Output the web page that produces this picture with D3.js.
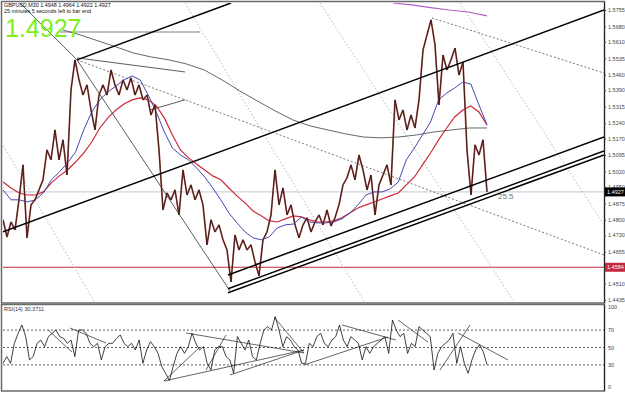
<!DOCTYPE html>
<html>
<head>
<meta charset="utf-8">
<script src="https://cdn.jsdelivr.net/npm/d3@7/dist/d3.min.js"></script>
<style>
  body { margin: 0; background: #fff; }
  text { font-family: "Liberation Sans", Arial, sans-serif; }
</style>
</head>
<body>
<div id="chart"></div>
<script>
// GBPUSD M30 closes, one value every 2 bars (bar 0 .. 242)
const closes = [
  1.4800,1.4722,1.4790,1.4754,1.4891,1.5050,1.4718,1.4868,1.4891,1.4936,
  1.4982,1.5118,1.5073,1.5209,1.5073,1.5164,1.5004,1.5391,1.5528,1.5437,
  1.5368,1.5414,1.5300,1.5209,1.5368,1.5414,1.5368,1.5482,1.5414,1.5368,
  1.5437,1.5391,1.5446,1.5368,1.5414,1.5346,1.5368,1.5277,1.5323,1.5118,
  1.4845,1.4922,1.4891,1.4936,1.4822,1.5027,1.4913,1.4959,1.4891,1.4936,
  1.4868,1.4686,1.4800,1.4745,1.4777,1.4709,1.4663,1.4517,1.4731,1.4663,
  1.4709,1.4663,1.4686,1.4608,1.4545,1.4709,1.4745,1.4822,1.5027,1.4868,
  1.4945,1.4822,1.4868,1.4777,1.4718,1.4777,1.4809,1.4745,1.4790,1.4822,
  1.4777,1.4845,1.4772,1.4809,1.4868,1.4959,1.4991,1.5050,1.4982,1.5095,
  1.5027,1.4936,1.5004,1.4822,1.4959,1.5004,1.5050,1.4959,1.5346,1.5255,
  1.5300,1.5209,1.5277,1.5218,1.5346,1.5573,1.5641,1.5710,1.5596,1.5323,
  1.5550,1.5482,1.5528,1.5582,1.5459,1.5518,1.5118,1.4913,1.5141,1.5095,
  1.5164,1.4927
];

// moving averages, evenly spaced over bar 0 .. 242
const blueMA = [
  1.4936,1.4891,1.4891,1.4881,1.4891,1.4922,1.4982,1.5018,1.5059,1.5109,
  1.5209,1.5291,1.5346,1.5382,1.5409,1.5437,1.5455,1.5437,1.5368,1.5291,
  1.5200,1.5127,1.5095,1.5073,1.5036,1.4995,1.4945,1.4891,1.4831,1.4786,
  1.4745,1.4718,1.4709,1.4722,1.4763,1.4777,1.4781,1.4813,1.4790,1.4786,
  1.4786,1.4790,1.4804,1.4831,1.4868,1.4913,1.4927,1.4927,1.4941,1.4972,
  1.5073,1.5127,1.5186,1.5245,1.5346,1.5377,1.5400,1.5427,1.5418,1.5323,
  1.5232
];
const redMA = [
  1.4972,1.4945,1.4922,1.4913,1.4913,1.4927,1.4968,1.5000,1.5027,1.5063,
  1.5104,1.5154,1.5218,1.5264,1.5300,1.5327,1.5346,1.5355,1.5346,1.5318,
  1.5264,1.5186,1.5118,1.5082,1.5054,1.5027,1.5000,1.4982,1.4945,1.4909,
  1.4877,1.4840,1.4818,1.4795,1.4790,1.4804,1.4818,1.4813,1.4800,1.4790,
  1.4790,1.4795,1.4809,1.4831,1.4854,1.4868,1.4881,1.4895,1.4909,1.4922,
  1.4959,1.4995,1.5050,1.5104,1.5164,1.5218,1.5268,1.5300,1.5318,1.5291,
  1.5232
];
// slow MA from bar 30 to 242, violet MA from bar 195 to 242
const slowMA = [
  1.5664,1.5641,1.5614,1.5587,1.5559,1.5541,1.5528,1.5509,1.5482,1.5437,
  1.5387,1.5341,1.5296,1.5255,1.5227,1.5209,1.5191,1.5177,1.5173,1.5177,
  1.5186,1.5200,1.5209,1.5218,1.5218
];
const violetMA = [1.5787,1.5778,1.5766,1.5755,1.5746,1.5728];

// RSI(14), evenly spaced over bar 0 .. 242
const rsi = [
  31.8,39.5,31.8,54.8,66.3,75.9,62.5,35.7,39.5,54.8,
  58.6,51.0,62.5,66.3,70.1,62.5,60.5,54.8,58.6,39.5,
  70.1,70.1,66.3,54.8,51.0,54.8,35.7,51.0,54.8,54.8,
  60.5,64.4,54.8,51.0,54.8,47.1,58.6,31.8,47.1,56.7,
  51.0,43.3,28.0,20.3,11.9,28.0,43.3,51.0,43.3,51.0,
  66.3,54.8,47.1,51.0,31.8,24.2,47.1,51.0,51.0,39.5,
  35.7,20.3,62.5,54.8,47.1,58.6,39.5,35.7,54.8,70.1,
  74.0,70.1,85.4,70.1,51.0,62.5,58.6,51.0,47.1,31.8,
  31.8,54.8,51.0,62.5,66.3,54.8,51.0,58.6,62.5,75.9,
  58.6,51.0,62.5,58.6,54.8,35.7,51.0,43.3,51.0,54.8,
  58.6,62.5,43.3,81.6,70.1,62.5,66.3,43.3,54.8,51.0,
  74.0,70.1,66.3,62.5,24.2,43.3,51.0,54.8,58.6,66.3,
  31.8,51.0,31.8,20.3,35.7,47.1,52.9,45.2,30.4
];

const priceTicks = ['1.5755','1.5680','1.5610','1.5535','1.5460','1.5390','1.5315','1.5240','1.5170',
  '1.5095','1.5020','1.4950','1.4875','1.4800','1.4730','1.4655','1.4580','1.4510','1.4435'];
const rsiLevels = [70, 50, 30];
const rsiTicks = [100, 70, 50, 30, 0];
const lastPrice = 1.4927;
const supportLevel = 1.4584;
const header = 'GBPUSD,M30  1.4948 1.4964 1.4922 1.4927';
const timer = '25 minutes 5 seconds left to bar end';

// drawn objects, [bar, price]
const channelLines = [
  [[0, 1.4745], [300.5, 1.5755]],
  [[37, 1.5528], [114, 1.5787]],
  [[112.5, 1.4549], [300.5, 1.5177]],
  [[112.5, 1.4486], [300.5, 1.5113]],
  [[112.5, 1.4468], [300.5, 1.5095]]
];
const thinLines = [
  [[8.5, 1.5787], [37, 1.5528], [113.5, 1.4476]],
  [[37, 1.5537], [91, 1.5473]],
  [[73.5, 1.5300], [91, 1.5346]]
];
const fanLines = [
  [[-1.5, 1.5164], [46, 1.4422]],
  [[91, 1.5787], [181, 1.4422]],
  [[158.5, 1.5787], [255, 1.4435]],
  [[228.5, 1.5787], [300.5, 1.4777]]
];
const angleLines = [
  [[214.5, 1.5719], [300.5, 1.5468]],
  [[37, 1.5528], [300.5, 1.4640]]
];
const grayLevel = [[28.5, 1.5655], [98.5, 1.5655]];
const angleLabel = { bar: 247.5, price: 1.4895, text: '25.5' };

// RSI trend lines, [bar, rsi]
const rsiLines = [
  [[22.5, 70.1], [34.5, 44.8]],
  [[33.5, 72.4], [51.5, 55.2]],
  [[80.5, 11.5], [150.5, 47.1]],
  [[113.5, 18.4], [150.5, 47.1]],
  [[150.5, 29.9], [192.5, 62.1]],
  [[80.5, 11.5], [98.5, 50.6]],
  [[101.5, 24.1], [111.5, 64.4]],
  [[91.5, 66.7], [150.5, 43.7]],
  [[135.5, 85.1], [150.5, 43.7]],
  [[169.5, 75.9], [196.5, 58.6]],
  [[197.5, 81.6], [212.5, 56.3]],
  [[218.5, 24.1], [233.5, 75.9]],
  [[227.5, 66.7], [252.5, 35.6]]
];

const W = 625, H = 393;
const svg = d3.select('#chart').append('svg').attr('width', W).attr('height', H);

const x = d3.scaleLinear().domain([0, 300.5]).range([3, 604]);
const y = d3.scaleLinear().domain([1.4435, 1.5755]).range([300, 10]);
const ry = d3.scaleLinear().domain([0, 100]).range([391, 304]);

const defs = svg.append('defs');
defs.append('clipPath').attr('id', 'clipMain').append('rect')
  .attr('x', 3).attr('y', 3).attr('width', 601).attr('height', 299);
defs.append('clipPath').attr('id', 'clipRsi').append('rect')
  .attr('x', 3).attr('y', 305).attr('width', 601).attr('height', 86);

const line = d3.line().x(d => x(d[0])).y(d => y(d[1]));
const rline = d3.line().x(d => x(d[0])).y(d => ry(d[1]));

const spread = (arr, b0, b1) => arr.map((v, i) => [b0 + i * (b1 - b0) / (arr.length - 1), v]);

// frames
svg.append('rect').attr('x', 1.5).attr('y', 1.5).attr('width', 603).attr('height', 301.5)
  .attr('fill', 'none').attr('stroke', '#6a6a6a').attr('stroke-width', 1.5);
svg.append('rect').attr('x', 1.5).attr('y', 304.5).attr('width', 603).attr('height', 86.5)
  .attr('fill', 'none').attr('stroke', '#6a6a6a').attr('stroke-width', 1.5);

const main = svg.append('g').attr('clip-path', 'url(#clipMain)');

// horizontal levels
main.append('line').attr('x1', 3).attr('x2', 604)
  .attr('y1', y(lastPrice)).attr('y2', y(lastPrice))
  .attr('stroke', '#bccbd3').attr('stroke-width', 1);
main.append('line').attr('x1', 3).attr('x2', 604)
  .attr('y1', y(supportLevel)).attr('y2', y(supportLevel))
  .attr('stroke', '#c3283c').attr('stroke-width', 1);

// fan lines (light dotted) and angle lines (dark dotted)
main.selectAll('.fan').data(fanLines).enter().append('path')
  .attr('d', line).attr('fill', 'none')
  .attr('stroke', '#a8a8a8').attr('stroke-width', 0.8).attr('stroke-dasharray', '1.5,2');
main.selectAll('.ang').data(angleLines).enter().append('path')
  .attr('d', line).attr('fill', 'none')
  .attr('stroke', '#555').attr('stroke-width', 0.8).attr('stroke-dasharray', '2,2');

main.append('path').attr('d', line(grayLevel)).attr('stroke', '#aaa').attr('stroke-width', 1.5);

// moving averages
main.append('path').attr('d', line(spread(slowMA, 30, 242))).attr('fill', 'none')
  .attr('stroke', '#666').attr('stroke-width', 1);
main.append('path').attr('d', line(spread(violetMA, 195, 242))).attr('fill', 'none')
  .attr('stroke', '#b55fc8').attr('stroke-width', 1.2);
main.append('path').attr('d', line(spread(redMA, 0, 242))).attr('fill', 'none')
  .attr('stroke', '#cc2a3a').attr('stroke-width', 1.2);
main.append('path').attr('d', line(spread(blueMA, 0, 242))).attr('fill', 'none')
  .attr('stroke', '#4646b4').attr('stroke-width', 1);

// price
const pricePts = spread(closes, 0, 242);
main.append('path').attr('d', line(pricePts)).attr('fill', 'none')
  .attr('stroke', '#a0504a').attr('stroke-width', 1.7).attr('stroke-linejoin', 'bevel');
main.append('path').attr('d', line(pricePts)).attr('fill', 'none')
  .attr('stroke', '#200606').attr('stroke-width', 0.7).attr('stroke-linejoin', 'bevel');

// trend lines
main.selectAll('.thin').data(thinLines).enter().append('path')
  .attr('d', line).attr('fill', 'none').attr('stroke', '#333').attr('stroke-width', 0.8);
main.selectAll('.chan').data(channelLines).enter().append('path')
  .attr('d', line).attr('fill', 'none').attr('stroke', '#000').attr('stroke-width', 1.5);

main.append('text').attr('x', x(angleLabel.bar)).attr('y', y(angleLabel.price))
  .attr('font-size', 8).attr('fill', '#777').text(angleLabel.text);

// price axis
const yAxis = svg.append('g').attr('transform', 'translate(604,0)')
  .call(d3.axisRight(y).tickValues(priceTicks.map(Number)).tickSize(2)
    .tickFormat((d, i) => priceTicks[i]));
yAxis.select('.domain').attr('stroke', '#222').attr('d', 'M0.5,2V303');
yAxis.selectAll('text').attr('font-size', 5.5).attr('fill', '#444').attr('x', 4)
  .attr('font-family', '"Liberation Sans", Arial, sans-serif');
yAxis.selectAll('line').attr('stroke', '#444');

// price boxes
[[lastPrice, '#000'], [supportLevel, '#c3283c']].forEach(([p, c]) => {
  svg.append('rect').attr('x', 605).attr('y', y(p) - 4.5).attr('width', 20).attr('height', 9).attr('fill', c);
  svg.append('text').attr('x', 607).attr('y', y(p) + 2).attr('font-size', 5.5)
    .attr('fill', '#fff').text(p.toFixed(4));
});

// headers
svg.append('text').attr('x', 4).attr('y', 7).attr('font-size', 5.4).attr('fill', '#111').text(header);
svg.append('text').attr('x', 4).attr('y', 12.5).attr('font-size', 5.4).attr('fill', '#111').text(timer);
svg.append('text').attr('x', 5).attr('y', 36.5).attr('font-size', 25).attr('fill', '#7cf01c')
  .text(lastPrice.toFixed(4));

// RSI panel
const sub = svg.append('g').attr('clip-path', 'url(#clipRsi)');
sub.selectAll('.lvl').data(rsiLevels).enter().append('line')
  .attr('x1', 3).attr('x2', 604).attr('y1', d => ry(d)).attr('y2', d => ry(d))
  .attr('stroke', '#333').attr('stroke-width', 0.8).attr('stroke-dasharray', '2,2');
sub.append('path').attr('d', rline(spread(rsi, 0, 242))).attr('fill', 'none')
  .attr('stroke', '#111').attr('stroke-width', 0.8);
sub.selectAll('.rt').data(rsiLines).enter().append('path')
  .attr('d', rline).attr('fill', 'none').attr('stroke', '#222').attr('stroke-width', 0.7);

svg.append('line').attr('x1', 604.5).attr('x2', 604.5).attr('y1', 305).attr('y2', 391).attr('stroke', '#222');
svg.selectAll('.rtick').data(rsiTicks).enter().append('text')
  .attr('x', 608).attr('y', d => Math.min(Math.max(ry(d) + 2, 309), 389))
  .attr('font-size', 5.5).attr('fill', '#444').text(d => d);

svg.append('text').attr('x', 4).attr('y', 311).attr('font-size', 5.5).attr('fill', '#333')
  .text('RSI(14) 30.3711');
</script>
</body>
</html>
